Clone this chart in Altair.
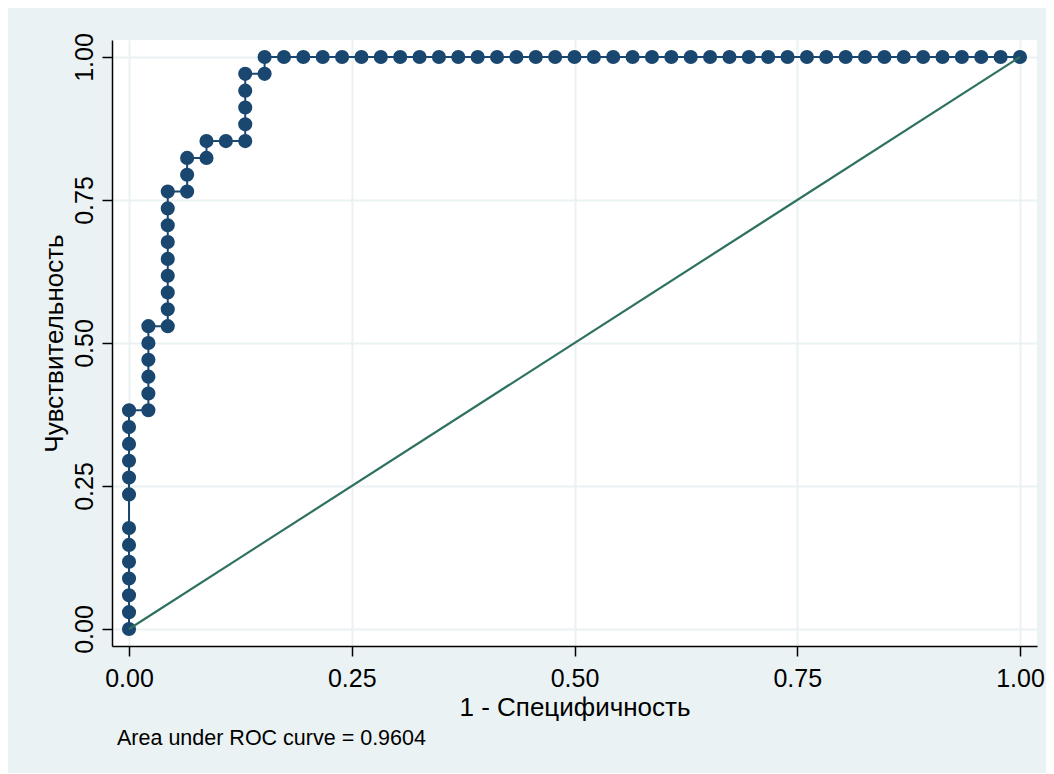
import altair as alt
import pandas as pd

# ROC curve: counts of false positives (out of 46 negatives) and true positives (out of 34 positives)
N_NEG = 46
N_POS = 34
fp_counts = [0, 0, 0, 0, 0, 0, 0, 0, 0, 0, 0, 0, 0,
             1, 1, 1, 1, 1, 1,
             2, 2, 2, 2, 2, 2, 2, 2, 2,
             3, 3, 3,
             4, 4,
             5,
             6, 6, 6, 6, 6,
             7, 7,
             8, 9, 10, 11, 12, 13, 14, 15, 16, 17, 18, 19, 20, 21, 22, 23, 24, 25, 26, 27,
             28, 29, 30, 31, 32, 33, 34, 35, 36, 37, 38, 39, 40, 41, 42, 43, 44, 45, 46]
tp_counts = [0, 1, 2, 3, 4, 5, 6, 8, 9, 10, 11, 12, 13,
             13, 14, 15, 16, 17, 18,
             18, 19, 20, 21, 22, 23, 24, 25, 26,
             26, 27, 28,
             28, 29,
             29,
             29, 30, 31, 32, 33,
             33, 34,
             34, 34, 34, 34, 34, 34, 34, 34, 34, 34, 34, 34, 34, 34, 34, 34, 34, 34, 34, 34,
             34, 34, 34, 34, 34, 34, 34, 34, 34, 34, 34, 34, 34, 34, 34, 34, 34, 34, 34]

ref_x = [0.0, 1.0]
ref_y = [0.0, 1.0]

tick_values = [0.0, 0.25, 0.5, 0.75, 1.0]
x_title = "1 - Специфичность"
y_title = "Чувствительность"
note_text = "Area under ROC curve = 0.9604"

roc = pd.DataFrame({
    "order": list(range(len(fp_counts))),
    "fpr": [c / N_NEG for c in fp_counts],
    "tpr": [c / N_POS for c in tp_counts],
})
ref = pd.DataFrame({"fpr": ref_x, "tpr": ref_y})

NAVY = "#1A476F"
GREEN = "#2E7161"
BG = "#EAF2F3"

x_scale = alt.Scale(domain=[-0.0191, 1.0191], nice=False, zero=False)
y_scale = alt.Scale(domain=[-0.0297, 1.0297], nice=False, zero=False)

x_axis = alt.Axis(values=tick_values, format=".2f", title=x_title,
                  labelFontSize=25, titleFontSize=26, labelPadding=10, titlePadding=3,
                  tickSize=10, labelFlush=False)
y_axis = alt.Axis(values=tick_values, format=".2f", title=y_title,
                  labelFontSize=25, titleFontSize=26, labelAngle=-90,
                  labelAlign="center", labelBaseline="bottom", labelPadding=5,
                  titlePadding=5, tickSize=10, labelFlush=False)

base = alt.Chart(roc).encode(
    x=alt.X("fpr:Q", scale=x_scale, axis=x_axis),
    y=alt.Y("tpr:Q", scale=y_scale, axis=y_axis),
)

line = base.mark_line(color=NAVY, strokeWidth=2).encode(order="order:Q")
points = base.mark_circle(color=NAVY, size=200, opacity=1)

diag = alt.Chart(ref).mark_line(color=GREEN, strokeWidth=2.2).encode(
    x=alt.X("fpr:Q", scale=x_scale),
    y=alt.Y("tpr:Q", scale=y_scale),
)

chart = alt.layer(line, points, diag).properties(
    width=925,
    height=606,
    autosize=alt.AutoSizeParams(type="none"),
    padding={"left": 104, "top": 32, "right": 9, "bottom": 127},
    background=BG,
    title=alt.TitleParams(note_text, orient="bottom", anchor="start", frame="group",
                          fontSize=21.5, fontWeight="normal", color="black",
                          dx=5, offset=8, baseline="top"),
).configure(
    font="Liberation Sans",
).configure_view(
    fill="white", strokeWidth=0,
).configure_axis(
    domainColor="black", domainWidth=1.5, tickColor="black", tickWidth=1.5,
    gridColor=BG, gridWidth=2, labelColor="black", titleColor="black",
    titleFontWeight="normal", labelFont="Liberation Sans", titleFont="Liberation Sans",
)

chart.save("out.html", embed_options={"renderer": "svg", "actions": False})
